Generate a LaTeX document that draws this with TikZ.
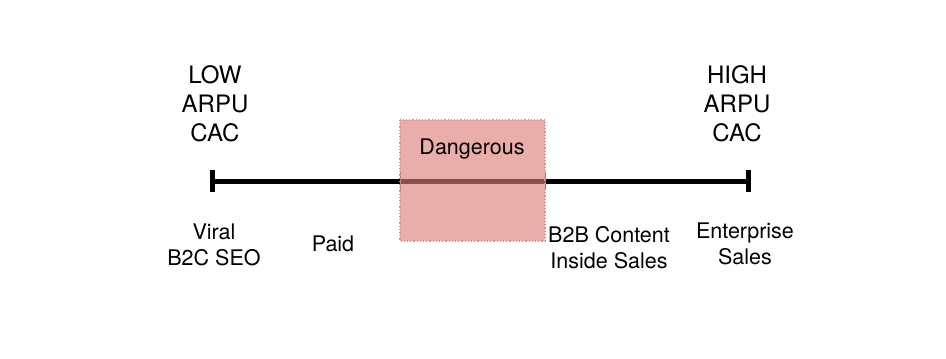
\documentclass[tikz,border=0pt]{standalone}
\usepackage{fontspec}
\setmainfont{TeX Gyre Heros}
\usetikzlibrary{arrows.meta}
\tikzset{>=latex}
\definecolor{axisColour}{RGB}{0,0,0}
\definecolor{dangerColour}{RGB}{220,126,120}
\definecolor{dangerEdge}{RGB}{226,140,136}
\tikzset{
	headlabel/.style={align=center, font=\fontsize{24}{29}\selectfont},
	footlabel/.style={align=center, font=\fontsize{21.5}{26}\selectfont}
}

\begin{document}
\begin{tikzpicture}[x=1pt, y=-1pt]
		\useasboundingbox (0, 0) rectangle (946, 359);

		% the scale
		\coordinate (lowend) at (209.5, 181);
		\coordinate (highend) at (750.5, 181);
		\draw[line width=5pt, color=axisColour, {Bar[width=22pt]}-{Bar[width=22pt]}] (lowend) -- (highend);
		\draw[gray, line width=0.8pt] (400, 172) -- (400, 190);
		\draw[gray, line width=0.8pt] (545, 172) -- (545, 190);

		% the dangerous zone
		\draw[fill=dangerColour, fill opacity=0.63, draw=dangerEdge, dotted, line width=1.2pt] (400, 120) rectangle (545, 241);
		\node[footlabel] (danger) at (472, 149) {Dangerous};

		% the two extremes
		\node[headlabel] (low) at (215, 104) {LOW\\ARPU\\CAC};
		\node[headlabel] (high) at (737, 104) {HIGH\\ARPU\\CAC};

		% channels along the scale
		\node[footlabel] (viral) at (214, 245) {Viral\\B2C SEO};
		\node[footlabel] (paid) at (333, 244) {Paid};
		\node[footlabel] (content) at (609, 248) {B2B Content\\Inside Sales};
		\node[footlabel] (enterprise) at (745, 244) {Enterprise\\Sales};
	\end{tikzpicture}
\end{document}
